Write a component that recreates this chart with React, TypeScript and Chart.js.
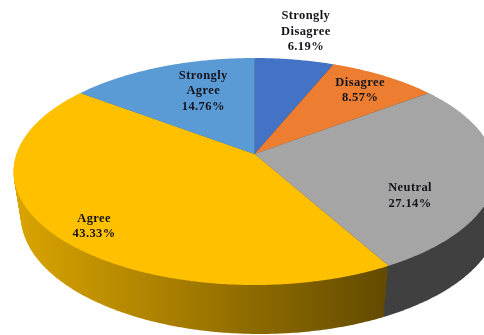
import { useEffect, useRef } from "react";
import { Chart, registerables } from "chart.js";

Chart.register(...registerables);

// Survey responses, in percent.
const categories = ["Strongly Disagree", "Disagree", "Neutral", "Agree", "Strongly Agree"];
const shares = [6.19, 8.57, 27.14, 43.33, 14.76];
const colors = ["#4472C4", "#ED7D31", "#A5A5A5", "#FFC000", "#5B9BD5"];

// Label placement per slice: radial fraction and angular shift in degrees from the slice middle.
const labelRadius = [1.36, 0.8, 0.715, 0.85, 0.665];
const labelShift = [0, 0, 18, -3, 6];

// Tilted disc: rim ellipse, the rim's lower copy, and the perspective shift of the pie's apex.
const TOP = { cx: 254.5, cy: 171.5, rx: 241, ry: 113.5 };
const BOTTOM = { cx: 260, cy: 216, rx: 239, ry: 118 };
const BOTTOM_TWIST = 0.04;
const APEX_SHIFT = -0.155;
const WALL_LAYERS = 48;

type Disc = typeof TOP;

// Projects a point of the unit disc onto a tilted ellipse; straight spokes stay straight.
function project(disc: Disc, x: number, y: number): [number, number] {
  const d = APEX_SHIFT;
  const w = 1 + d * y;
  const u = (x * Math.sqrt(1 - d * d)) / w;
  const v = (y + d) / w;
  return [disc.cx + disc.rx * u, disc.cy + disc.ry * v];
}

function rimPoints(disc: Disc, start: number, end: number): [number, number][] {
  const steps = Math.max(2, Math.ceil((end - start) / 0.01));
  const pts: [number, number][] = [];
  for (let i = 0; i <= steps; i++) {
    const a = start + ((end - start) * i) / steps;
    pts.push(project(disc, Math.cos(a), Math.sin(a)));
  }
  return pts;
}

function shade(hex: string, f: number): string {
  const n = parseInt(hex.slice(1), 16);
  const c = [(n >> 16) & 255, (n >> 8) & 255, n & 255].map((v) => Math.round(v * f));
  return `rgb(${c[0]},${c[1]},${c[2]})`;
}

function wedge(ctx: CanvasRenderingContext2D, disc: Disc, start: number, end: number) {
  const apex = project(disc, 0, 0);
  ctx.beginPath();
  ctx.moveTo(apex[0], apex[1]);
  rimPoints(disc, start, end).forEach(([x, y]) => ctx.lineTo(x, y));
  ctx.closePath();
  ctx.fill();
}

function layerDisc(t: number): Disc {
  return {
    cx: TOP.cx + (BOTTOM.cx - TOP.cx) * t,
    cy: TOP.cy + (BOTTOM.cy - TOP.cy) * t,
    rx: TOP.rx + (BOTTOM.rx - TOP.rx) * t,
    ry: TOP.ry + (BOTTOM.ry - TOP.ry) * t,
  };
}

const tiltedPie = {
  id: "tiltedPie",
  beforeDatasetDraw() {
    return false;
  },
  afterDatasetsDraw(chart: Chart) {
    const ctx = chart.ctx;
    const arcs = chart.getDatasetMeta(0).data as any[];
    ctx.save();

    // Side wall, lit from the left: wedges stacked from the lower rim upwards.
    const walls = arcs.map((arc) => {
      const color = arc.options.backgroundColor as string;
      const grad = ctx.createLinearGradient(TOP.cx - TOP.rx, 0, 387, 0);
      grad.addColorStop(0, shade(color, 0.86));
      grad.addColorStop(1, shade(color, 0.385));
      return grad;
    });
    for (let k = WALL_LAYERS; k > 0; k--) {
      const t = k / WALL_LAYERS;
      const disc = layerDisc(t);
      arcs.forEach((arc, i) => {
        ctx.fillStyle = walls[i];
        wedge(ctx, disc, arc.startAngle + BOTTOM_TWIST * t, arc.endAngle + BOTTOM_TWIST * t);
      });
    }

    // Top faces.
    arcs.forEach((arc) => {
      ctx.fillStyle = arc.options.backgroundColor as string;
      wedge(ctx, TOP, arc.startAngle, arc.endAngle);
    });

    // Category and share labels.
    ctx.font = "bold 12.5px 'Liberation Serif'";
    (ctx as any).letterSpacing = "0.4px";
    ctx.textAlign = "center";
    ctx.textBaseline = "middle";
    ctx.fillStyle = "#14141c";
    arcs.forEach((arc, i) => {
      const mid = (arc.startAngle + arc.endAngle) / 2 + (labelShift[i] * Math.PI) / 180;
      const [x, y] = project(TOP, labelRadius[i] * Math.cos(mid), labelRadius[i] * Math.sin(mid));
      const lines = [...categories[i].split(" "), `${shares[i].toFixed(2)}%`];
      const lead = 15.5;
      lines.forEach((line, k) => {
        ctx.fillText(line, x - 0.5, y + (k - (lines.length - 1) / 2) * lead);
      });
    });
    ctx.restore();
  },
};

export default function App() {
  const ref = useRef<HTMLCanvasElement>(null);
  useEffect(() => {
    const chart = new Chart(ref.current!, {
      type: "pie",
      data: {
        labels: categories,
        datasets: [{ data: shares, backgroundColor: colors, borderWidth: 0 }],
      },
      options: {
        responsive: false,
        animation: false,
        plugins: { legend: { display: false }, tooltip: { enabled: false } },
      },
      plugins: [tiltedPie],
    });
    return () => chart.destroy();
  }, []);
  return (
    <div style={{ position: "absolute", left: 0, top: 0, width: 484, height: 335, overflow: "hidden", background: "#fff" }}>
      <canvas ref={ref} width={484} height={335} style={{ display: "block" }} />
    </div>
  );
}
